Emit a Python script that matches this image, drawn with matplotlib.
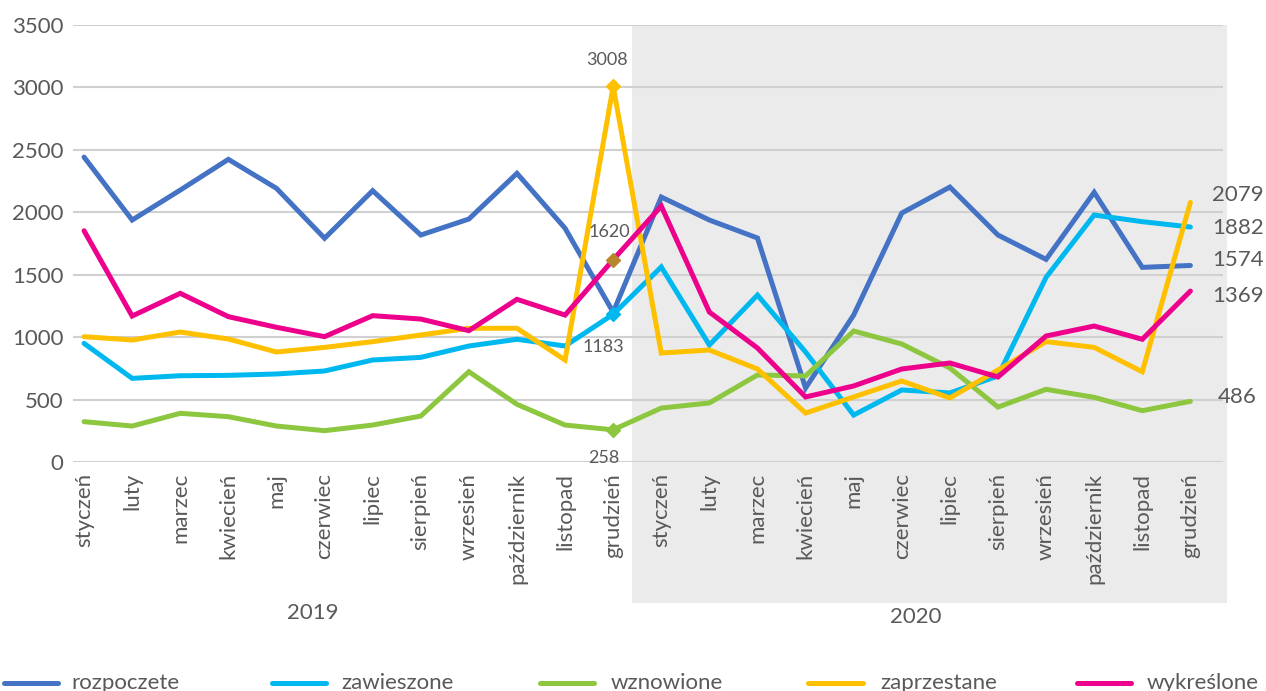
import matplotlib
matplotlib.use("Agg")
import matplotlib.pyplot as plt
from matplotlib.lines import Line2D
from matplotlib.patches import Rectangle
import matplotlib.transforms as mtransforms

plt.rcParams['font.family'] = ['Lato', 'DejaVu Sans']

# miesiące dla dwóch lat
months = ["styczeń", "luty", "marzec", "kwiecień", "maj", "czerwiec", "lipiec",
          "sierpień", "wrzesień", "październik", "listopad", "grudzień"]
labels = months + months
years = ["2019", "2020"]

rozpoczete = [2442, 1938, 2178, 2424, 2192, 1792, 2173, 1818, 1946, 2312, 1872, 1200,
              2122, 1938, 1794, 593, 1177, 1994, 2202, 1818, 1623, 2160, 1559, 1574]
zawieszone = [950, 670, 691, 694, 705, 729, 817, 838, 929, 983, 929, 1183,
              1562, 937, 1337, 881, 376, 577, 553, 689, 1479, 1978, 1925, 1882]
wznowione = [323, 288, 390, 363, 288, 251, 296, 368, 723, 462, 296, 258,
             432, 473, 697, 689, 1049, 945, 753, 440, 582, 518, 411, 486]
zaprzestane = [1004, 977, 1041, 985, 881, 918, 964, 1017, 1071, 1071, 817, 3008,
               873, 897, 745, 392, 521, 649, 513, 737, 964, 918, 723, 2079]
wykreslone = [1852, 1169, 1351, 1164, 1079, 1004, 1172, 1145, 1052, 1303, 1177, 1620,
              2050, 1201, 913, 521, 609, 745, 793, 681, 1009, 1089, 983, 1369]

series = [
    ("rozpoczete", rozpoczete, "#4472C4"),
    ("zawieszone", zawieszone, "#00B8F0"),
    ("wznowione", wznowione, "#8DC63F"),
    ("zaprzestane", zaprzestane, "#FFC000"),
    ("wykreślone", wykreslone, "#EC008C"),
]

txt = "#595959"
x = list(range(len(labels)))

fig = plt.figure(figsize=(12.66, 6.91), dpi=100)
ax = fig.add_axes([0.0577, 0.3314, 0.9084, 0.6324])
ax.set_axisbelow(True)

# szare tło dla roku 2020 (razem z etykietami osi)
trans = mtransforms.blended_transform_factory(ax.transData, ax.transAxes)
ax.add_patch(Rectangle((11.39, -0.323), 12.37, 1.323, transform=trans,
                       facecolor="#EBEBEB", edgecolor="none", clip_on=False, zorder=0.2))

for name, vals, col in series:
    ax.plot(x, vals, color=col, lw=3.6, solid_joinstyle="miter", solid_capstyle="round",
            zorder=3)

# znaczniki w grudniu 2019
ax.plot(11, zaprzestane[11], marker="D", ms=7, color="#FFC000", zorder=4)
ax.plot(11, zawieszone[11], marker="D", ms=7, color="#00B8F0", zorder=4)
ax.plot(11, wznowione[11], marker="D", ms=7, color="#8DC63F", zorder=4)
ax.plot(11, wykreslone[11], marker="D", ms=7, color="#B8862B", zorder=4)

ax.set_xlim(-0.229, 23.68)
ax.set_ylim(0, 3500)
ax.set_yticks(range(0, 3501, 500))
ax.set_xticks(x)
ax.set_xticklabels(labels, rotation=90)
ax.tick_params(axis="both", length=0, labelsize=16, labelcolor=txt)
ax.tick_params(axis="x", pad=8)
ax.tick_params(axis="y", pad=7)
ax.grid(axis="y", color="#D0D0D0", lw=1.5)
for s in ax.spines.values():
    s.set_visible(False)

# etykiety wartości
small = dict(fontsize=13, color=txt, ha="center", va="center", textcoords="offset pixels")
ax.annotate(str(zaprzestane[11]), (11, zaprzestane[11]), xytext=(-6, 26), **small)
ax.annotate(str(wykreslone[11]), (11, wykreslone[11]), xytext=(-4, 28), **small)
ax.annotate(str(zawieszone[11]), (11, zawieszone[11]), xytext=(-10, -33), **small)
ax.annotate(str(wznowione[11]), (11, wznowione[11]), xytext=(-9, -28), **small)

big = dict(fontsize=16, color=txt, ha="left", va="center", textcoords="offset pixels")
ax.annotate(str(zaprzestane[23]), (23, zaprzestane[23]), xytext=(22, 7), **big)
ax.annotate(str(zawieszone[23]), (23, zawieszone[23]), xytext=(22, -1), **big)
ax.annotate(str(rozpoczete[23]), (23, rozpoczete[23]), xytext=(22, 5), **big)
ax.annotate(str(wykreslone[23]), (23, wykreslone[23]), xytext=(22, -5), **big)
ax.annotate(str(wznowione[23]), (23, wznowione[23]), xytext=(27, 4), **big)

# podpisy lat
ax.text(4.76, -0.345, years[0], transform=trans, fontsize=16, color=txt,
        ha="center", va="center")
ax.text(17.3, -0.354, years[1], transform=trans, fontsize=16, color=txt,
        ha="center", va="center")

# legenda na dole
leg_y = 8 / 691
leg_pos = [(4, 58, 71), (272, 326, 341), (540, 594, 611), (808, 863, 880), (1077, 1131, 1147)]
for (name, vals, col), (x0, x1, xt) in zip(series, leg_pos):
    fig.add_artist(Line2D([x0 / 1266, x1 / 1266], [leg_y, leg_y], color=col, lw=3.6,
                          solid_capstyle="round", transform=fig.transFigure))
    fig.text(xt / 1266, leg_y, name, fontsize=16, color=txt, ha="left", va="center")

fig.savefig("out.png", dpi=100)
